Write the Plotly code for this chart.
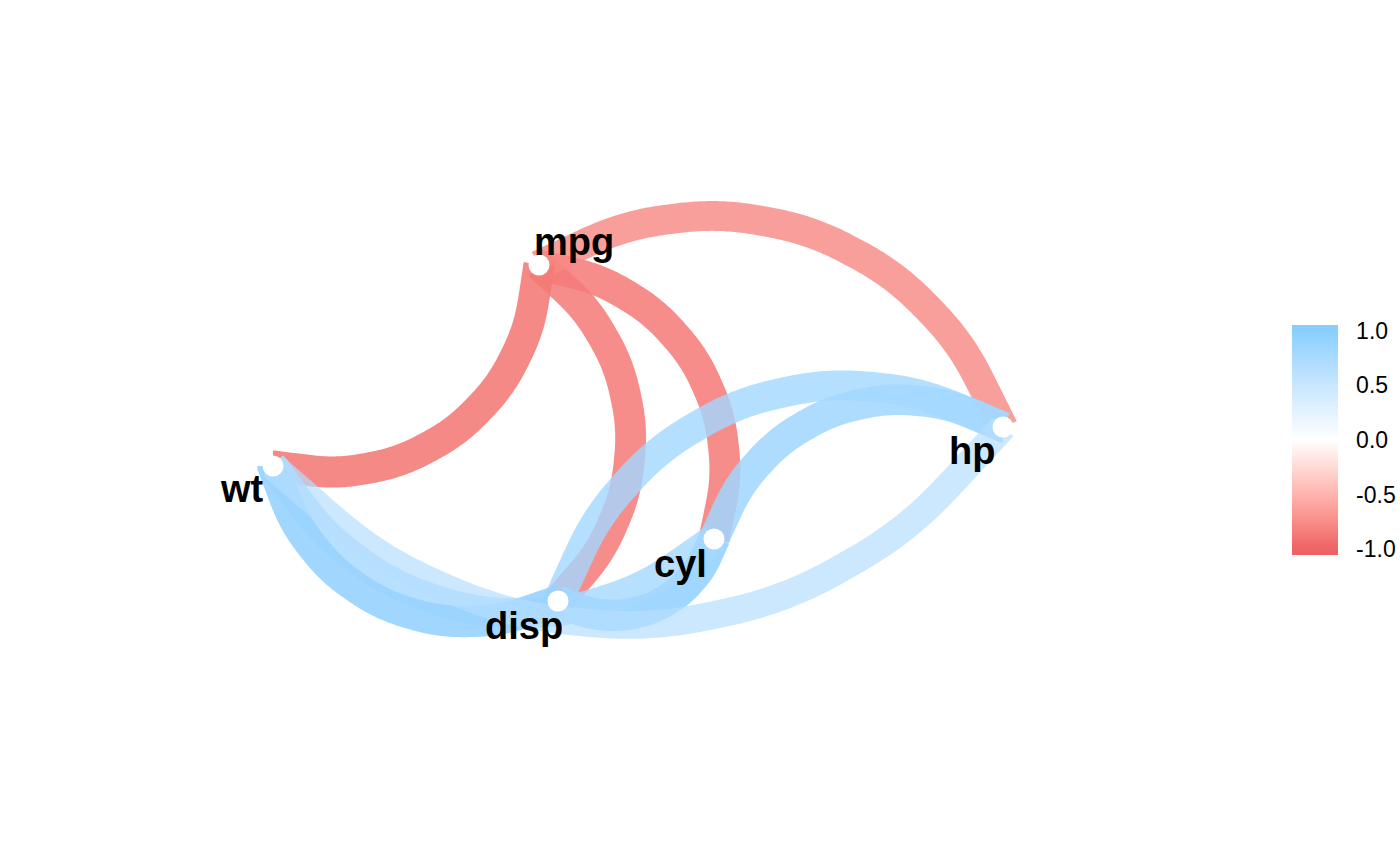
import numpy as np
import plotly.graph_objects as go

# ---------------- data ----------------
variables = ["mpg", "cyl", "disp", "hp", "wt"]
# node layout (multidimensional-scaling positions, expressed in the plot's layout units)
node_x = [539, 714, 558, 1003, 273]
node_y = [265, 539, 601, 427, 466]

edge_from = ["mpg", "mpg", "mpg", "mpg", "cyl", "cyl", "cyl", "disp", "disp", "hp"]
edge_to = ["cyl", "disp", "hp", "wt", "disp", "hp", "wt", "hp", "wt", "wt"]
edge_r = [-0.85, -0.85, -0.78, -0.87, 0.90, 0.83, 0.78, 0.79, 0.89, 0.66]

colorbar_tickvals = [-1.0, -0.5, 0.0, 0.5, 1.0]
colorbar_ticktext = ["-1.0", "-0.5", "0.0", "0.5", "1.0"]

# ---------------- style ----------------
COL_LOW = "#EE6363"   # indianred2
COL_MID = "#FFFFFF"
COL_HIGH = "#87CEFF"  # skyblue1
CURVATURE, ANGLE, NCP, SHAPE = 0.5, 90, 5, 0.5
W, H = 1400, 866
FONT = "Liberation Sans"


def hex2rgb(h):
    h = h.lstrip("#")
    return [int(h[i:i + 2], 16) for i in (0, 2, 4)]


def srgb2lab(rgb):
    c = np.array(rgb, float) / 255.0
    c = np.where(c <= 0.04045, c / 12.92, ((c + 0.055) / 1.055) ** 2.4)
    M = np.array([[0.4124564, 0.3575761, 0.1804375],
                  [0.2126729, 0.7151522, 0.0721750],
                  [0.0193339, 0.1191920, 0.9503041]])
    xyz = M @ c
    xyz = xyz / np.array([0.95047, 1.0, 1.08883])
    f = np.where(xyz > 216 / 24389, np.cbrt(xyz), (24389 / 27 * xyz + 16) / 116)
    return np.array([116 * f[1] - 16, 500 * (f[0] - f[1]), 200 * (f[1] - f[2])])


def lab2srgb(lab):
    L, a, b = lab
    fy = (L + 16) / 116
    fx = fy + a / 500
    fz = fy - b / 200
    f = np.array([fx, fy, fz])
    xyz = np.where(f ** 3 > 216 / 24389, f ** 3, (116 * f - 16) / (24389 / 27))
    xyz = xyz * np.array([0.95047, 1.0, 1.08883])
    Minv = np.array([[3.2404542, -1.5371385, -0.4985314],
                     [-0.9692660, 1.8760108, 0.0415560],
                     [0.0556434, -0.2040259, 1.0572252]])
    c = Minv @ xyz
    c = np.clip(c, 0, 1)
    c = np.where(c <= 0.0031308, 12.92 * c, 1.055 * c ** (1 / 2.4) - 0.055)
    return [int(round(v * 255)) for v in c]


LAB_LOW, LAB_MID, LAB_HIGH = (srgb2lab(hex2rgb(c)) for c in (COL_LOW, COL_MID, COL_HIGH))


def r_colour(r):
    r = max(-1.0, min(1.0, r))
    if r < 0:
        lab = LAB_MID + (-r) * (LAB_LOW - LAB_MID)
    else:
        lab = LAB_MID + r * (LAB_HIGH - LAB_MID)
    return lab2srgb(lab)


# ---- grid::curveGrob geometry (control points + open X-spline) ----
def calc_origin(x1, y1, x2, y2, origin):
    xm, ym = (x1 + x2) / 2, (y1 + y2) / 2
    tmpox = xm + origin * (x2 - x1) / 2
    tmpoy = ym + origin * (y2 - y1) / 2
    sintheta = -1
    return xm - (tmpoy - ym) * sintheta, ym + (tmpox - xm) * sintheta


def calc_control_points(x1, y1, x2, y2, curvature, angle, ncp):
    xm, ym = (x1 + x2) / 2, (y1 + y2) / 2
    dx, dy = x2 - x1, y2 - y1
    a = np.radians(angle)
    cornerx = xm + (x1 - xm) * np.cos(a) - (y1 - ym) * np.sin(a)
    cornery = ym + (y1 - ym) * np.cos(a) + (x1 - xm) * np.sin(a)
    beta = -np.arctan((cornery - y1) / (cornerx - x1))
    sinb, cosb = np.sin(beta), np.cos(beta)
    newx2 = x1 + dx * cosb - dy * sinb
    newy2 = y1 + dy * cosb + dx * sinb
    scalex = (newy2 - y1) / (newx2 - x1)
    newx1 = x1 * scalex
    newx2 = newx2 * scalex
    ratio = 2 * np.sin(np.arctan(curvature)) ** 2
    origin = curvature - curvature / ratio
    dirn = 1 if curvature > 0 else -1
    ox, oy = calc_origin(newx1, y1, newx2, newy2, origin)
    maxtheta = np.pi + np.sign(origin * dirn) * 2 * np.arctan(abs(origin))
    theta = np.linspace(0, dirn * maxtheta, ncp + 2)[1:-1]
    cpx = ox + (newx1 - ox) * np.cos(theta) - (y1 - oy) * np.sin(theta)
    cpy = oy + (y1 - oy) * np.cos(theta) + (newx1 - ox) * np.sin(theta)
    cpx = cpx / scalex
    sinnb, cosnb = np.sin(-beta), np.cos(-beta)
    fx = x1 + (cpx - x1) * cosnb - (cpy - y1) * sinnb
    fy = y1 + (cpy - y1) * cosnb + (cpx - x1) * sinnb
    return fx, fy


def f_blend(num, den):
    p = 2 * den * den
    u = num / den
    return u ** 3 * (10 - p + (2 * p - 15) * u + (6 - p) * u * u)


def xspline_open(px, py, ps, steps=40):
    n = len(px)
    windows = [[0, 0, 1, 2]] + [[k, k + 1, k + 2, k + 3] for k in range(0, n - 3)] + [[n - 3, n - 2, n - 1, n - 1]]
    ox, oy = [], []
    for w in windows:
        s1, s2 = ps[w[1]], ps[w[2]]
        for t in np.arange(0, 1, 1.0 / steps):
            A0 = f_blend(t - s1, -1 - s1) if t < s1 else 0.0
            A2 = f_blend(t + s1, 1 + s1)
            A1 = f_blend(t - 1 - s2, -1 - s2)
            A3 = f_blend(t - 1 + s2, 1 + s2) if t > 1 - s2 else 0.0
            A = [A0, A1, A2, A3]
            sw = sum(A)
            ox.append(sum(A[i] * px[w[i]] for i in range(4)) / sw)
            oy.append(sum(A[i] * py[w[i]] for i in range(4)) / sw)
    ox.append(px[-1])
    oy.append(py[-1])
    return np.array(ox), np.array(oy)


def curve_points(p_start, p_end):
    # work in y-up space (screen y negated)
    x1, y1, x2, y2 = p_start[0], -p_start[1], p_end[0], -p_end[1]
    cx, cy = calc_control_points(x1, y1, x2, y2, CURVATURE, ANGLE, NCP)
    px = np.concatenate([[x1], cx, [x2]])
    py = np.concatenate([[y1], cy, [y2]])
    ps = [0.0] + [SHAPE] * NCP + [0.0]
    xs, ys = xspline_open(px, py, ps)
    return xs, -ys


pos = {v: (x, y) for v, x, y in zip(variables, node_x, node_y)}

fig = go.Figure()

for a, b, r in zip(edge_from, edge_to, edge_r):
    xs, ys = curve_points(pos[b], pos[a])
    rgb = r_colour(r)
    alpha = 0.1 + 0.9 * abs(r)
    width = 5.5 * (1 + 5 * np.sqrt(abs(r)))
    fig.add_trace(go.Scatter(
        x=xs, y=ys, mode="lines",
        line=dict(color=f"rgba({rgb[0]},{rgb[1]},{rgb[2]},{alpha:.3f})", width=width,
                  simplify=False),
        hoverinfo="skip", showlegend=False))

# nodes
fig.add_trace(go.Scatter(
    x=node_x, y=node_y, mode="markers",
    marker=dict(color="white", size=21, line=dict(width=0)),
    text=variables, hoverinfo="text", showlegend=False))

# labels (repelled positions)
label_shift = {"mpg": (35, 23), "cyl": (-34, -25), "disp": (-34, -25), "hp": (-31, -24), "wt": (-31, -23)}
for v, x, y in zip(variables, node_x, node_y):
    sx, sy = label_shift[v]
    fig.add_annotation(x=x, y=y, text=v, showarrow=False, xshift=sx, yshift=sy,
                       xanchor="center", yanchor="middle",
                       font=dict(family=FONT, size=38, color="black", weight="bold"))

# colourbar
CB_HALF = 1.052
stops = np.linspace(-CB_HALF, CB_HALF, 61)
colorscale = []
for s in stops:
    c = r_colour(s)
    colorscale.append([(s + CB_HALF) / (2 * CB_HALF), f"rgb({c[0]},{c[1]},{c[2]})"])

CB_X0, CB_THICK, CB_CY, CB_LEN = 1292, 46, 440, 230
fig.add_trace(go.Scatter(
    x=[node_x[0], node_x[0]], y=[node_y[0], node_y[0]], mode="markers",
    marker=dict(color=[-1, 1], cmin=-CB_HALF, cmax=CB_HALF, colorscale=colorscale,
                opacity=0, size=1, showscale=True,
                colorbar=dict(x=CB_X0 / W, xanchor="left", y=1 - CB_CY / H, yanchor="middle",
                              thickness=CB_THICK, thicknessmode="pixels",
                              len=CB_LEN, lenmode="pixels", xpad=0, ypad=0,
                              outlinewidth=0, tickvals=colorbar_tickvals, ticktext=colorbar_ticktext,
                              ticks="outside", ticklen=14, tickcolor="rgba(255,255,255,0)",
                              tickfont=dict(family=FONT, size=23, color="black"))),
    hoverinfo="skip", showlegend=False))

# white tick marks on both sides of the bar
px_per_unit = CB_LEN / (2 * CB_HALF)
tick_len = CB_THICK / 5
for v in colorbar_tickvals:
    ypx = CB_CY - v * px_per_unit
    for xa, xb in ((CB_X0, CB_X0 + tick_len), (CB_X0 + CB_THICK - tick_len, CB_X0 + CB_THICK)):
        fig.add_shape(type="line", xref="paper", yref="paper",
                      x0=xa / W, x1=xb / W, y0=1 - ypx / H, y1=1 - ypx / H,
                      line=dict(color="white", width=1.2))

fig.update_layout(
    width=W, height=H,
    margin=dict(l=0, r=0, t=0, b=0),
    paper_bgcolor="white", plot_bgcolor="white",
    xaxis=dict(range=[0, W], visible=False, fixedrange=True),
    yaxis=dict(range=[H, 0], visible=False, fixedrange=True),
    showlegend=False,
)

fig.write_html("out.html", config={"displayModeBar": False},
               post_script="document.body.style.margin='0px';document.body.style.overflow='hidden';")
